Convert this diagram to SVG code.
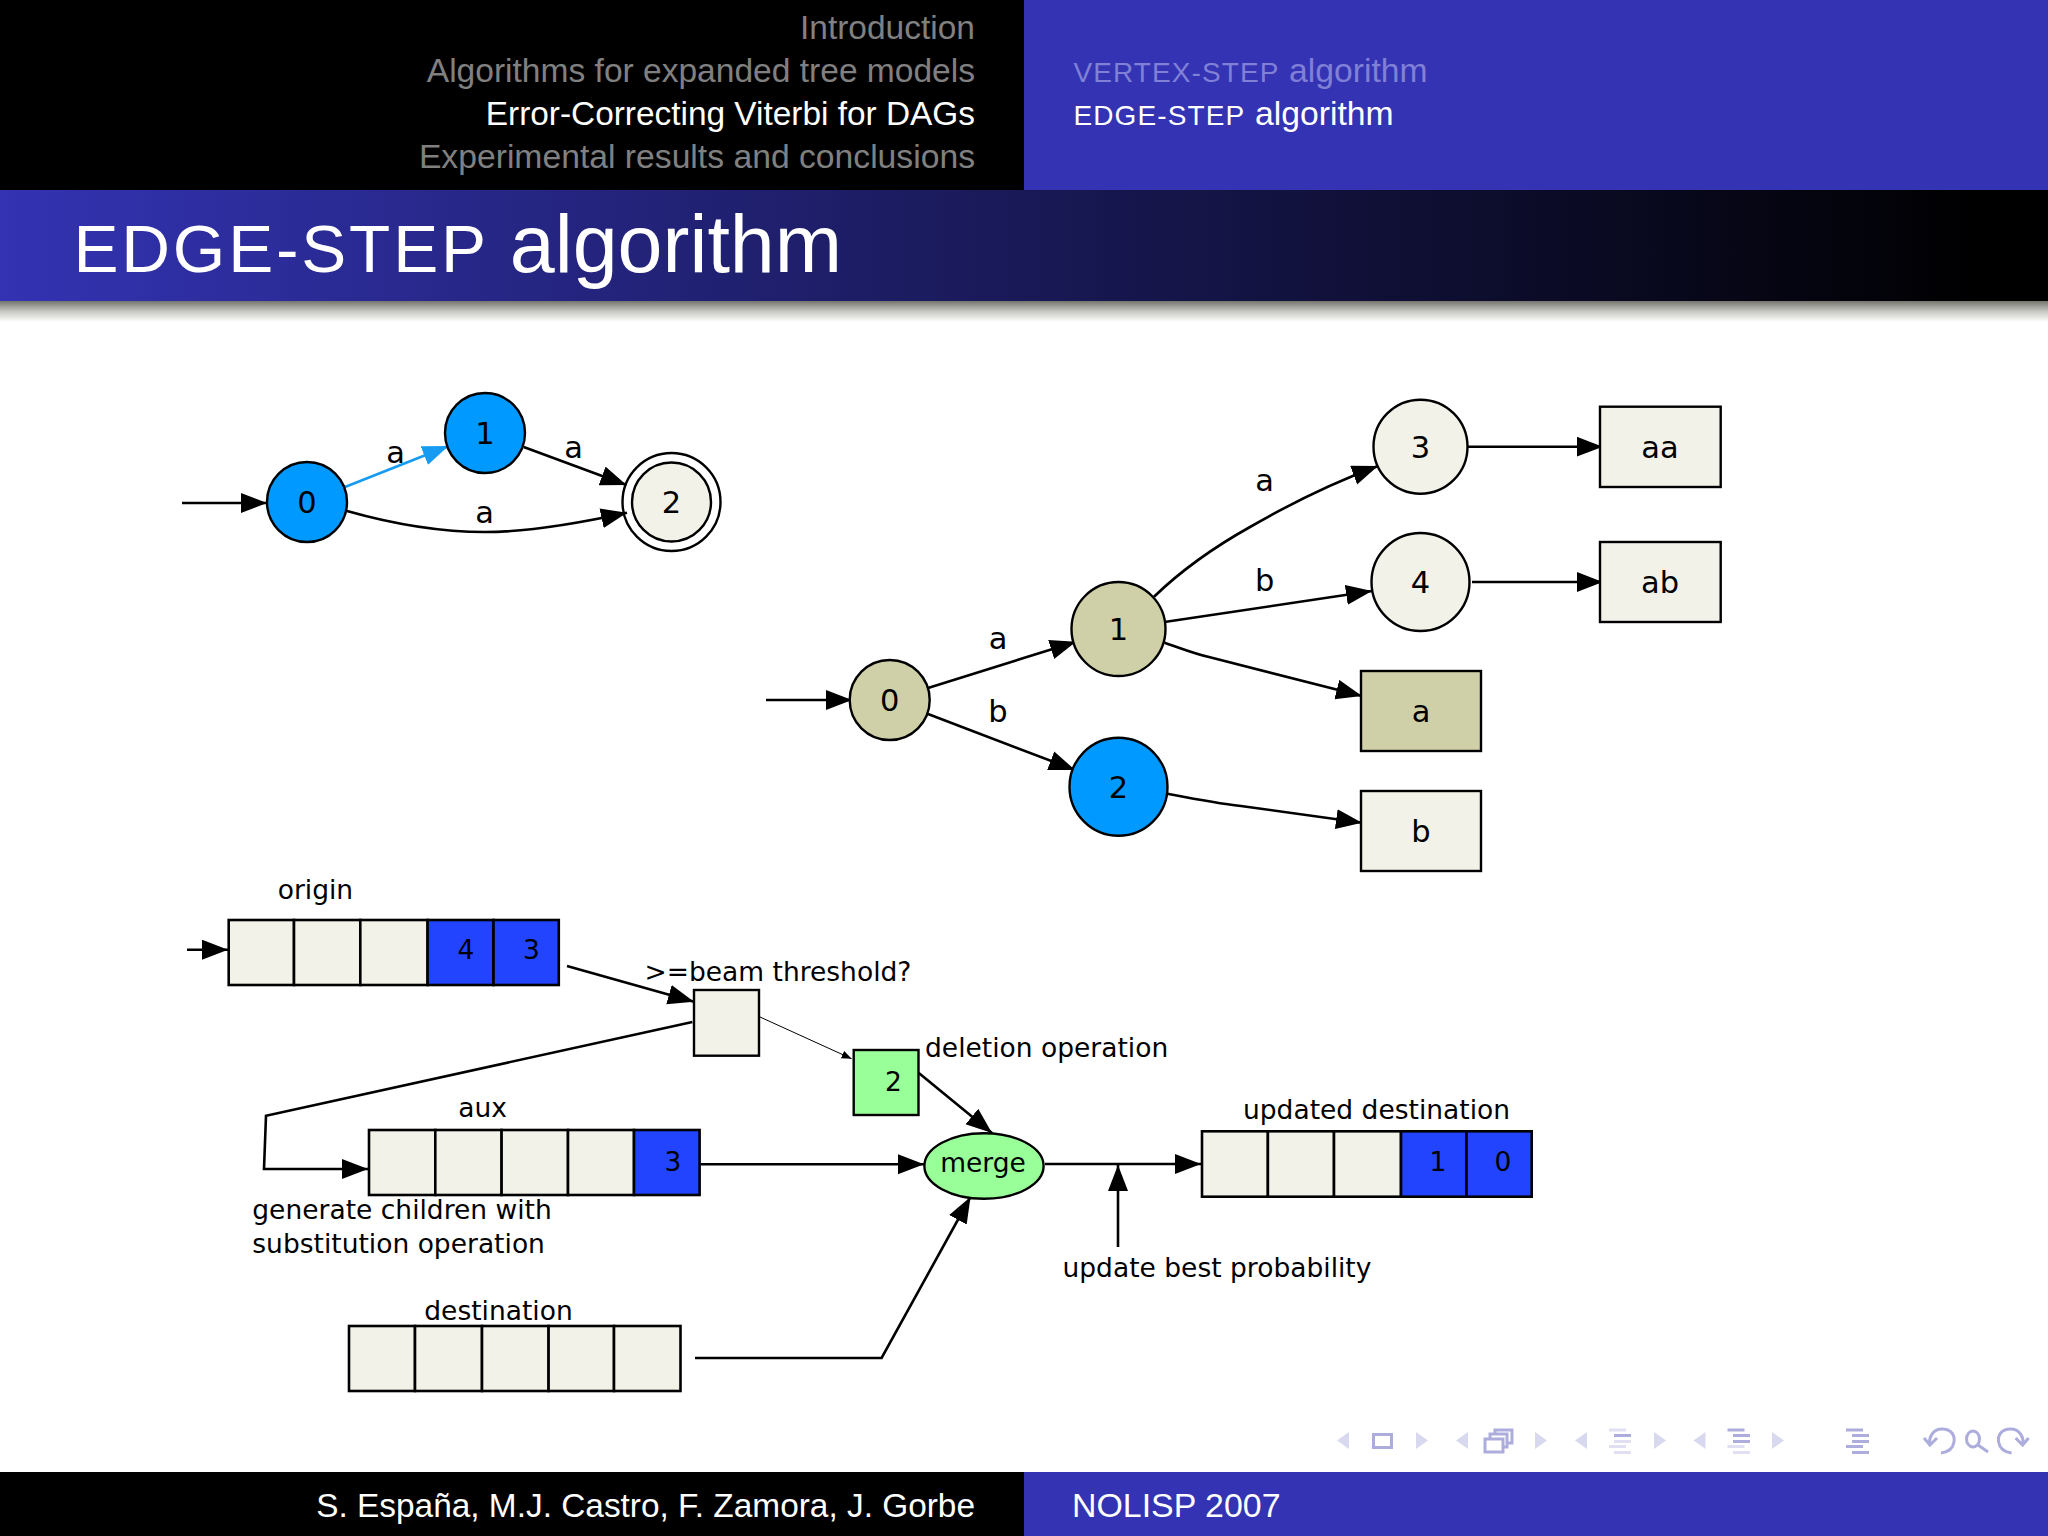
<svg xmlns="http://www.w3.org/2000/svg" width="2048" height="1536" viewBox="0 0 2048 1536">
<style>
.hdr{font-family:"Liberation Sans",Arial,sans-serif;font-size:33.7px}
.r{text-anchor:end}
.dim{fill:#808080}
.wh{fill:#fff}
.lab{font-family:"DejaVu Sans",sans-serif;font-size:26.5px;fill:#000}
.big{font-size:30.5px}
.c{text-anchor:middle}
.e{fill:none;stroke:#000;stroke-width:2.6}
.n{stroke:#000;stroke-width:2.4}
.cream{fill:#F2F2E9}
.khaki{fill:#D0D0A8}
.blue{fill:#0099FF}
.cellb{fill:#2244FF}
.green{fill:#99FF99}
.cell{stroke:#000;stroke-width:2.6}
.tri{fill:#D8D8EF}
.ic{fill:none;stroke:#ADADDD;stroke-width:3}
.b1{fill:#ADADDD}
.b2{fill:#E0E0F2}
</style>
<defs>
<linearGradient id="tg" x1="0" x2="1" y1="0" y2="0"><stop offset="0" stop-color="#3333B3"/><stop offset="0.97" stop-color="#000"/><stop offset="1" stop-color="#000"/></linearGradient>
<linearGradient id="sh" x1="0" x2="0" y1="0" y2="1"><stop offset="0" stop-color="#75756e"/><stop offset="0.5" stop-color="#c8c8c4"/><stop offset="1" stop-color="#fff"/></linearGradient>
<marker id="ah" markerUnits="userSpaceOnUse" markerWidth="30" markerHeight="22" refX="26" refY="10" orient="auto"><path d="M0 0L26 10L0 20z"/></marker>
<marker id="ahb" markerUnits="userSpaceOnUse" markerWidth="30" markerHeight="22" refX="26" refY="10" orient="auto"><path d="M0 0L26 10L0 20z" fill="#169BF2"/></marker>
<marker id="ahs" markerUnits="userSpaceOnUse" markerWidth="12" markerHeight="10" refX="10" refY="4" orient="auto"><path d="M0 0L10 4L0 8z"/></marker>
<path id="tl" d="M12 0V17L0 8.5z"/>
<path id="trr" d="M0 0V17L12 8.5z"/>
<path id="undo" d="M1930 1446C1928 1436 1934 1429 1942 1429C1952 1429 1955 1436 1954 1442C1953 1448 1949 1452 1941 1453M1924 1438L1930 1445L1937 1438"/>
</defs>
<rect width="2048" height="1536" fill="#fff"/>

<g id="header">
<rect width="1024" height="191" fill="#000"/>
<rect x="1024" width="1024" height="191" fill="#3333B3"/>
<text class="hdr r dim" x="975" y="39" style="font-size:33.5px">Introduction</text>
<text class="hdr r dim" x="975" y="82.2" style="font-size:33.55px">Algorithms for expanded tree models</text>
<text class="hdr r wh" x="975" y="125.2" style="font-size:33.4px">Error-Correcting Viterbi for DAGs</text>
<text class="hdr r dim" x="975" y="168.3">Experimental results and conclusions</text>
<text class="hdr" x="1073.5" y="82.2" fill="#8080D6"><tspan font-size="28" letter-spacing="1.1">VERTEX-STEP</tspan><tspan x="1289">algorithm</tspan></text>
<text class="hdr wh" x="1073.5" y="125.2"><tspan font-size="28" letter-spacing="1.1">EDGE-STEP</tspan><tspan x="1255">algorithm</tspan></text>
</g>
<g id="title">
<rect y="190" width="2048" height="111" fill="url(#tg)"/>
<rect y="301" width="2048" height="21" fill="url(#sh)"/>
<text class="wh" font-family="'Liberation Sans',Arial,sans-serif" x="73.5" y="271.5"><tspan font-size="67.5" letter-spacing="2.8">EDGE-STEP</tspan><tspan x="509.8" font-size="80.8">algorithm</tspan></text>
</g>

<g id="connectors">
<path class="e" d="M182 503H267" marker-end="url(#ah)"/>
<path d="M345 487L448.5 446" fill="none" stroke="#169BF2" stroke-width="2.6" marker-end="url(#ahb)"/>
<path class="e" d="M523.7 447L626.5 485" marker-end="url(#ah)"/>
<path class="e" d="M347 511C400 526 445 532 485 532C525 532 575 524 627 512.7" marker-end="url(#ah)"/>
<path class="e" d="M766 700H852" marker-end="url(#ah)"/>
<path class="e" d="M928 688L1076 641.7" marker-end="url(#ah)"/>
<path class="e" d="M928 714L1075 770" marker-end="url(#ah)"/>
<path class="e" d="M1154 596.7C1190 562 1225 541 1250 527C1295 501 1335 482 1378 466" marker-end="url(#ah)"/>
<path class="e" d="M1164.5 622L1372 591" marker-end="url(#ah)"/>
<path class="e" d="M1164.5 642.7C1180 648 1195 654 1209 657L1362 696" marker-end="url(#ah)"/>
<path class="e" d="M1167.7 793.7C1190 798 1215 803 1241 806L1362 822.7" marker-end="url(#ah)"/>
<path class="e" d="M1467.5 446.7H1602.7" marker-end="url(#ah)"/>
<path class="e" d="M1472 582H1602.7" marker-end="url(#ah)"/>
<path class="e" d="M187 949.7H228" stroke-width="3.4" marker-end="url(#ah)"/>
<path class="e" d="M567 966L694 1001.7" marker-end="url(#ah)"/>
<path d="M760 1017L851.6 1058.7" fill="none" stroke="#000" stroke-width="1" marker-end="url(#ahs)"/>
<path class="e" d="M692.4 1022L266 1115.7L264 1169H368" marker-end="url(#ah)"/>
<path class="e" d="M700.6 1164.3H924" marker-end="url(#ah)"/>
<path class="e" d="M918.8 1073L992 1133" marker-end="url(#ah)"/>
<path class="e" d="M1045 1164H1201" marker-end="url(#ah)"/>
<path class="e" d="M1118 1247V1165" marker-end="url(#ah)"/>
<path class="e" d="M695 1358H881.6L970.5 1197" marker-end="url(#ah)"/>
</g>
<g id="edge-labels">
<text class="lab big c" x="395.5" y="463">a</text>
<text class="lab big c" x="573.5" y="458">a</text>
<text class="lab big c" x="484.5" y="523">a</text>
<text class="lab big c" x="1264.7" y="491">a</text>
<text class="lab big c" x="1264.7" y="591">b</text>
<text class="lab big c" x="998" y="649">a</text>
<text class="lab big c" x="998" y="722">b</text>
</g>

<g id="dag-0"><circle class="n blue" cx="307" cy="502" r="40"/><text class="lab big c" x="307" y="513">0</text></g>
<g id="dag-1"><circle class="n blue" cx="485" cy="433" r="40"/><text class="lab big c" x="485" y="444">1</text></g>
<g id="dag-2"><circle cx="671.5" cy="502" r="49" fill="none" stroke="#000" stroke-width="2.4"/><circle class="n cream" cx="671.5" cy="502" r="39.5"/><text class="lab big c" x="671.5" y="513">2</text></g>

<g id="tree-0"><circle class="n khaki" cx="889.7" cy="700" r="40"/><text class="lab big c" x="889.7" y="711">0</text></g>
<g id="tree-1"><circle class="n khaki" cx="1118.5" cy="629" r="47"/><text class="lab big c" x="1118.5" y="640">1</text></g>
<g id="tree-2"><circle class="n blue" cx="1118.5" cy="786.7" r="49"/><text class="lab big c" x="1118.5" y="797.7">2</text></g>
<g id="tree-3"><circle class="n cream" cx="1420.5" cy="446.7" r="47"/><text class="lab big c" x="1420.5" y="457.7">3</text></g>
<g id="tree-4"><circle class="n cream" cx="1420.5" cy="582" r="49"/><text class="lab big c" x="1420.5" y="593">4</text></g>
<g id="box-aa"><rect class="n cream" x="1600" y="406.7" width="120.7" height="80.3"/><text class="lab big c" x="1660" y="458">aa</text></g>
<g id="box-ab"><rect class="n cream" x="1600" y="542" width="120.7" height="80"/><text class="lab big c" x="1660" y="593">ab</text></g>
<g id="box-a"><rect class="n khaki" x="1361" y="671" width="120" height="80"/><text class="lab big c" x="1421" y="722">a</text></g>
<g id="box-b"><rect class="n cream" x="1361" y="791" width="120" height="80"/><text class="lab big c" x="1421" y="842">b</text></g>

<g id="origin">
<text class="lab c" x="315.4" y="898.5">origin</text>
<rect class="cell cream" x="228.7" y="920" width="65.3" height="65"/>
<rect class="cell cream" x="294" y="920" width="66.3" height="65"/>
<rect class="cell cream" x="360.3" y="920" width="67.3" height="65"/>
<rect class="cell cellb" x="427.6" y="920" width="65.9" height="65"/>
<rect class="cell cellb" x="493.5" y="920" width="65.3" height="65"/>
<text class="lab c" x="466" y="959">4</text>
<text class="lab c" x="531.5" y="959">3</text>
</g>
<g id="threshold">
<text class="lab" x="644.5" y="980.7">&gt;=beam threshold?</text>
<rect class="n cream" x="694" y="990" width="65" height="65.7"/>
</g>
<g id="deletion">
<rect class="n green" x="853.7" y="1050" width="64.8" height="65"/>
<text class="lab c" x="893.5" y="1091">2</text>
<text class="lab" x="925" y="1056.7">deletion operation</text>
</g>
<g id="aux">
<text class="lab c" x="482.5" y="1117">aux</text>
<rect class="cell cream" x="369" y="1130" width="66.3" height="65"/>
<rect class="cell cream" x="435.3" y="1130" width="66.3" height="65"/>
<rect class="cell cream" x="501.6" y="1130" width="66.4" height="65"/>
<rect class="cell cream" x="568" y="1130" width="66" height="65"/>
<rect class="cell cellb" x="634" y="1130" width="65.6" height="65"/>
<text class="lab c" x="673" y="1171">3</text>
<text class="lab" x="252.3" y="1219">generate children with</text>
<text class="lab" x="252.3" y="1252.7">substitution operation</text>
</g>
<g id="destination">
<text class="lab c" x="498.5" y="1320">destination</text>
<rect class="cell cream" x="349" y="1326" width="66" height="65"/>
<rect class="cell cream" x="415" y="1326" width="67" height="65"/>
<rect class="cell cream" x="482" y="1326" width="66.6" height="65"/>
<rect class="cell cream" x="548.6" y="1326" width="65.4" height="65"/>
<rect class="cell cream" x="614" y="1326" width="66.5" height="65"/>
</g>
<g id="merge">
<ellipse class="n green" cx="984" cy="1166" rx="59.6" ry="32.8"/>
<text class="lab c" x="983" y="1172">merge</text>
</g>
<g id="updated-destination">
<text class="lab" x="1243" y="1118.7">updated destination</text>
<rect class="cell cream" x="1202" y="1131.3" width="65.9" height="65.4"/>
<rect class="cell cream" x="1267.9" y="1131.3" width="66.1" height="65.4"/>
<rect class="cell cream" x="1334" y="1131.3" width="67" height="65.4"/>
<rect class="cell cellb" x="1401" y="1131.3" width="65.5" height="65.4"/>
<rect class="cell cellb" x="1466.5" y="1131.3" width="65.2" height="65.4"/>
<text class="lab c" x="1438" y="1170.5">1</text>
<text class="lab c" x="1503" y="1170.5">0</text>
</g>
<g id="update-note"><text class="lab" x="1062.5" y="1277">update best probability</text></g>

<g id="footer">
<rect y="1472" width="1024" height="64" fill="#000"/>
<rect x="1024" y="1472" width="1024" height="64" fill="#3333B3"/>
<text class="hdr r wh" x="975" y="1516.5" style="font-size:33.4px">S. España, M.J. Castro, F. Zamora, J. Gorbe</text>
<text class="hdr wh" x="1072" y="1516.5" style="font-size:33.9px">NOLISP 2007</text>
</g>

<g id="nav">
<use href="#tl" class="tri" x="1337" y="1432"/>
<rect class="ic" x="1373.5" y="1434.5" width="18" height="13"/>
<use href="#trr" class="tri" x="1416" y="1432"/>
<use href="#tl" class="tri" x="1456" y="1432"/>
<path class="ic" d="M1495 1433V1430H1512V1443H1508M1490 1438V1434H1507V1447H1503M1485 1439H1503V1452H1485z"/>
<use href="#trr" class="tri" x="1535" y="1432"/>
<use href="#tl" class="tri" x="1575" y="1432"/>
<g class="b2"><rect x="1609" y="1428.5" width="17" height="3"/><rect x="1609" y="1445" width="17" height="3"/><rect x="1614" y="1440" width="17" height="3"/><rect x="1614" y="1451" width="17" height="3"/></g>
<rect class="b1" x="1614" y="1434" width="17" height="3"/>
<use href="#trr" class="tri" x="1654" y="1432"/>
<use href="#tl" class="tri" x="1693.5" y="1432"/>
<rect class="b1" x="1727.5" y="1428.5" width="17" height="3"/><rect class="b1" x="1733" y="1434" width="17" height="3"/><rect class="b1" x="1733" y="1440" width="17" height="3"/>
<g class="b2"><rect x="1727.5" y="1445" width="17" height="3"/><rect x="1733" y="1451" width="17" height="3"/></g>
<use href="#trr" class="tri" x="1772" y="1432"/>
<g class="b1"><rect x="1846" y="1428.5" width="17" height="3"/><rect x="1852" y="1434" width="17" height="3"/><rect x="1852" y="1440" width="17" height="3"/><rect x="1846" y="1445" width="17" height="3"/><rect x="1852" y="1451" width="17" height="3"/></g>
<use href="#undo" class="ic"/>
<ellipse class="ic" cx="1973" cy="1439" rx="6.5" ry="8"/>
<path class="ic" d="M1978 1445L1988 1452" stroke-width="3.6"/>
<use href="#undo" class="ic" transform="matrix(-1 0 0 1 3952.6 0)"/>
</g>
</svg>
